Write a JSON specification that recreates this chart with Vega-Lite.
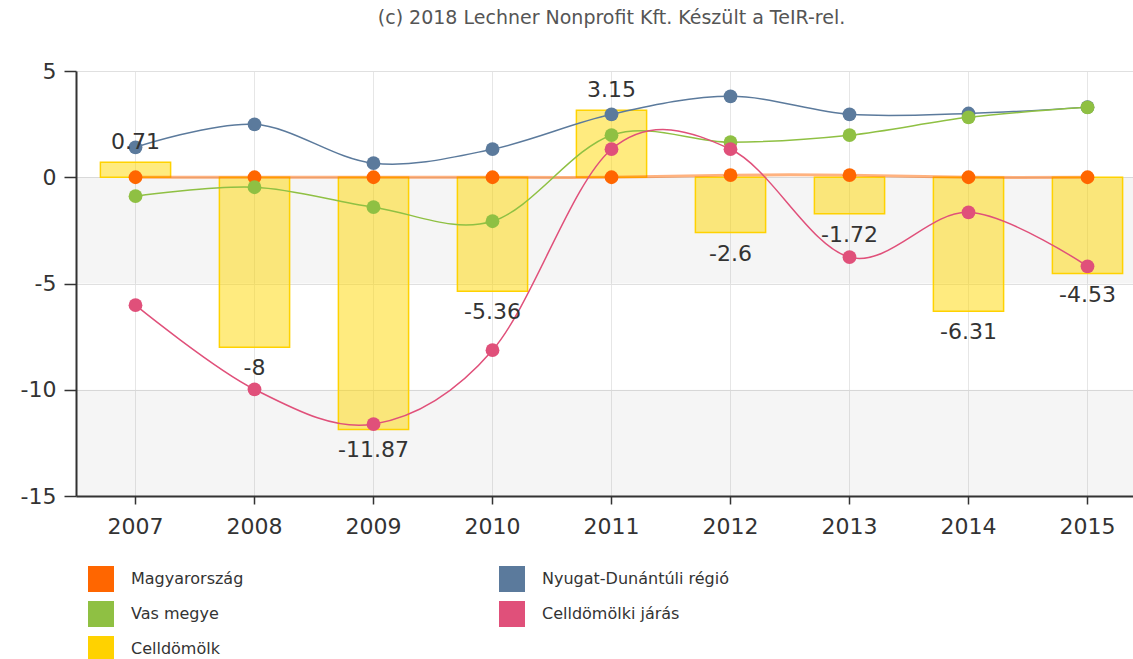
{
  "$schema": "https://vega.github.io/schema/vega-lite/v6.json",
  "width": 1071,
  "height": 425,
  "autosize": {"type": "none"},
  "padding": {"left": 76, "top": 71, "right": 0, "bottom": 163},
  "background": "white",
  "title": {"text": "(c) 2018 Lechner Nonprofit Kft. Készült a TeIR-rel.", "fontSize": 19, "font": "DejaVu Sans", "fontWeight": "normal", "color": "#555", "offset": 32, "anchor": "middle"},
  "datasets": {
    "bands": [{"a": 0, "b": -5}, {"a": -10, "b": -15}],
    "main": [
      {"year": "2007", "series": "Magyarország", "value": 0},
      {"year": "2008", "series": "Magyarország", "value": 0},
      {"year": "2009", "series": "Magyarország", "value": 0},
      {"year": "2010", "series": "Magyarország", "value": 0},
      {"year": "2011", "series": "Magyarország", "value": 0},
      {"year": "2012", "series": "Magyarország", "value": 0.1},
      {"year": "2013", "series": "Magyarország", "value": 0.1},
      {"year": "2014", "series": "Magyarország", "value": 0},
      {"year": "2015", "series": "Magyarország", "value": 0},
      {"year": "2007", "series": "Nyugat-Dunántúli régió", "value": 1.41},
      {"year": "2008", "series": "Nyugat-Dunántúli régió", "value": 2.49},
      {"year": "2009", "series": "Nyugat-Dunántúli régió", "value": 0.66},
      {"year": "2010", "series": "Nyugat-Dunántúli régió", "value": 1.32},
      {"year": "2011", "series": "Nyugat-Dunántúli régió", "value": 2.96},
      {"year": "2012", "series": "Nyugat-Dunántúli régió", "value": 3.81},
      {"year": "2013", "series": "Nyugat-Dunántúli régió", "value": 2.96},
      {"year": "2014", "series": "Nyugat-Dunántúli régió", "value": 3.0},
      {"year": "2015", "series": "Nyugat-Dunántúli régió", "value": 3.3},
      {"year": "2007", "series": "Vas megye", "value": -0.89},
      {"year": "2008", "series": "Vas megye", "value": -0.47},
      {"year": "2009", "series": "Vas megye", "value": -1.41},
      {"year": "2010", "series": "Vas megye", "value": -2.07},
      {"year": "2011", "series": "Vas megye", "value": 1.98},
      {"year": "2012", "series": "Vas megye", "value": 1.65},
      {"year": "2013", "series": "Vas megye", "value": 1.98},
      {"year": "2014", "series": "Vas megye", "value": 2.82},
      {"year": "2015", "series": "Vas megye", "value": 3.29},
      {"year": "2007", "series": "Celldömölki járás", "value": -6.02},
      {"year": "2008", "series": "Celldömölki járás", "value": -9.98},
      {"year": "2009", "series": "Celldömölki járás", "value": -11.62},
      {"year": "2010", "series": "Celldömölki járás", "value": -8.14},
      {"year": "2011", "series": "Celldömölki járás", "value": 1.32},
      {"year": "2012", "series": "Celldömölki járás", "value": 1.32},
      {"year": "2013", "series": "Celldömölki járás", "value": -3.76},
      {"year": "2014", "series": "Celldömölki járás", "value": -1.65},
      {"year": "2015", "series": "Celldömölki járás", "value": -4.19},
      {"year": "2007", "series": "Celldömölk", "value": 0.71},
      {"year": "2008", "series": "Celldömölk", "value": -8},
      {"year": "2009", "series": "Celldömölk", "value": -11.87},
      {"year": "2010", "series": "Celldömölk", "value": -5.36},
      {"year": "2011", "series": "Celldömölk", "value": 3.15},
      {"year": "2012", "series": "Celldömölk", "value": -2.6},
      {"year": "2013", "series": "Celldömölk", "value": -1.72},
      {"year": "2014", "series": "Celldömölk", "value": -6.31},
      {"year": "2015", "series": "Celldömölk", "value": -4.53}
    ]
  },
  "layer": [
    {
      "data": {"name": "bands"},
      "mark": {"type": "rect", "fill": "#000000", "opacity": 0.04},
      "encoding": {
        "y": {"field": "a", "type": "quantitative", "scale": {"domain": [-15, 5], "nice": false, "zero": false}, "title": null},
        "y2": {"field": "b"}
      }
    },
    {
      "data": {"name": "main"},
      "transform": [{"filter": "datum.series === 'Celldömölk'"}],
      "mark": {"type": "bar", "fill": "#FFD700", "fillOpacity": 0.5, "stroke": "#FFD200", "strokeWidth": 1.5, "width": {"band": 0.59}},
      "encoding": {
        "x": {"field": "year", "type": "ordinal", "title": null, "scale": {"paddingInner": 0, "paddingOuter": 0}},
        "y": {"field": "value", "type": "quantitative", "scale": {"domain": [-15, 5], "nice": false, "zero": false}, "title": null, "axis": {"values": [-15, -10, -5, 0, 5], "labelExpr": "'' + datum.value"}}
      }
    },
    {
      "data": {"name": "main"},
      "transform": [{"filter": "datum.series === 'Magyarország'"}],
      "mark": {"type": "line", "stroke": "#FF6600", "strokeWidth": 3, "opacity": 0.5, "interpolate": "cardinal"},
      "encoding": {
        "x": {"field": "year", "type": "ordinal", "title": null},
        "y": {"field": "value", "type": "quantitative", "title": null}
      }
    },
    {
      "data": {"name": "main"},
      "transform": [{"filter": "datum.series !== 'Magyarország' && datum.series !== 'Celldömölk'"}],
      "mark": {"type": "line", "strokeWidth": 1.5, "interpolate": "cardinal"},
      "encoding": {
        "x": {"field": "year", "type": "ordinal", "title": null},
        "y": {"field": "value", "type": "quantitative", "title": null},
        "color": {"field": "series", "type": "nominal"}
      }
    },
    {
      "data": {"name": "main"},
      "transform": [{"filter": "datum.series !== 'Celldömölk'"}],
      "mark": {"type": "point", "filled": true, "size": 190, "opacity": 1, "shape": "circle"},
      "encoding": {
        "x": {"field": "year", "type": "ordinal", "title": null},
        "y": {"field": "value", "type": "quantitative", "title": null},
        "color": {
          "field": "series",
          "type": "nominal",
          "scale": {
            "domain": ["Magyarország", "Vas megye", "Celldömölk", "Nyugat-Dunántúli régió", "Celldömölki járás"],
            "range": ["#FF6600", "#8FC043", "#FFD200", "#5B7A9C", "#E0507A"]
          },
          "legend": {
            "orient": "none",
            "legendX": 12,
            "legendY": 495,
            "columns": 2,
            "title": null,
            "direction": "vertical",
            "gridAlign": "each",
            "symbolType": "square",
            "symbolSize": 676,
            "symbolStrokeWidth": 0,
            "symbolOpacity": 1,
            "labelFontSize": 16,
            "labelFont": "DejaVu Sans",
            "labelColor": "#333",
            "labelOffset": 17,
            "labelLimit": 400,
            "columnPadding": 255,
            "rowPadding": 9,
            "padding": 0,
            "encode": {"symbols": {"update": {"fill": {"scale": "color", "field": "value"}, "fillOpacity": {"value": 1}, "strokeWidth": {"value": 0}, "shape": {"value": "square"}}}}
          }
        }
      }
    },
    {
      "data": {"name": "main"},
      "transform": [{"filter": "datum.series === 'Celldömölk' && datum.value >= 0"}],
      "mark": {"type": "text", "fontSize": 22, "font": "DejaVu Sans", "color": "#333", "baseline": "middle", "dy": -20},
      "encoding": {
        "x": {"field": "year", "type": "ordinal", "title": null},
        "y": {"field": "value", "type": "quantitative", "title": null},
        "text": {"field": "value", "type": "nominal"}
      }
    },
    {
      "data": {"name": "main"},
      "transform": [{"filter": "datum.series === 'Celldömölk' && datum.value < 0"}],
      "mark": {"type": "text", "fontSize": 22, "font": "DejaVu Sans", "color": "#333", "baseline": "middle", "dy": 21},
      "encoding": {
        "x": {"field": "year", "type": "ordinal", "title": null},
        "y": {"field": "value", "type": "quantitative", "title": null},
        "text": {"field": "value", "type": "nominal"}
      }
    }
  ],
  "config": {
    "view": {"stroke": null},
    "axisX": {"labelAngle": 0, "labelFontSize": 22, "labelFont": "DejaVu Sans", "labelColor": "#333", "tickSize": 8, "tickColor": "#333", "tickWidth": 1.5, "domainColor": "#333", "domainWidth": 2, "grid": true, "gridColor": "#E6E6E6", "bandPosition": 0.5, "labelPadding": 12},
    "axisY": {"labelFontSize": 22, "labelFont": "DejaVu Sans", "labelColor": "#333", "tickSize": 12, "tickColor": "#333", "tickWidth": 1.5, "domainColor": "#333", "domainWidth": 2, "grid": true, "gridColor": "#E0E0E0", "labelPadding": 8}
  }
}
